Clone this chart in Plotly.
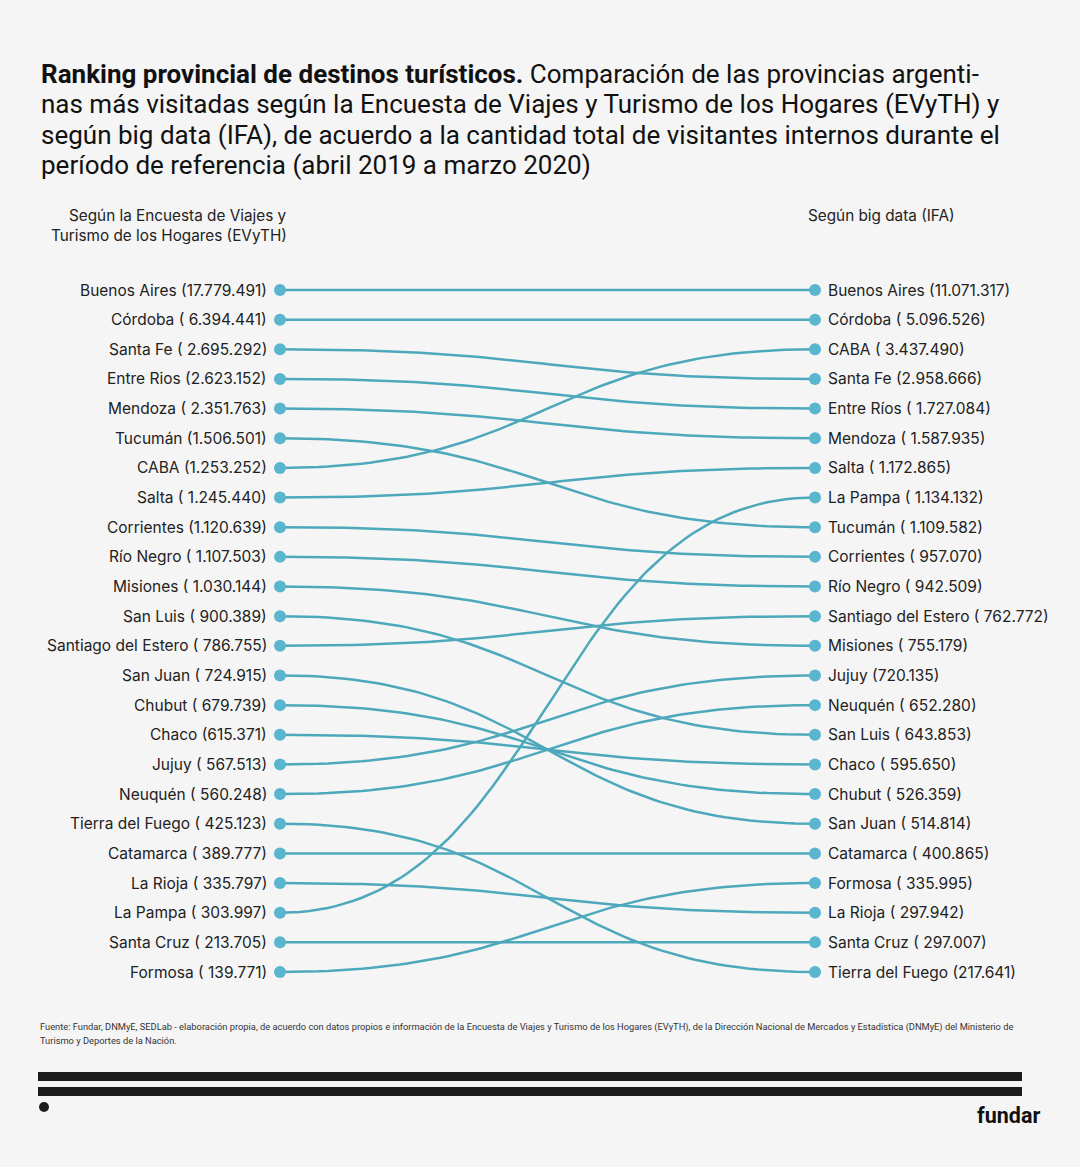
import numpy as np
import plotly.graph_objects as go

# ---------------- data ----------------
left_names = ["Buenos Aires", "Córdoba", "Santa Fe", "Entre Rios", "Mendoza", "Tucumán", "CABA",
              "Salta", "Corrientes", "Río Negro", "Misiones", "San Luis", "Santiago del Estero",
              "San Juan", "Chubut", "Chaco", "Jujuy", "Neuquén", "Tierra del Fuego", "Catamarca",
              "La Rioja", "La Pampa", "Santa Cruz", "Formosa"]
left_values = ["(17.779.491)", "( 6.394.441)", "( 2.695.292)", "(2.623.152)", "( 2.351.763)",
               "(1.506.501)", "(1.253.252)", "( 1.245.440)", "(1.120.639)", "( 1.107.503)",
               "( 1.030.144)", "( 900.389)", "( 786.755)", "( 724.915)", "( 679.739)",
               "(615.371)", "( 567.513)", "( 560.248)", "( 425.123)", "( 389.777)",
               "( 335.797)", "( 303.997)", "( 213.705)", "( 139.771)"]

right_names = ["Buenos Aires", "Córdoba", "CABA", "Santa Fe", "Entre Ríos", "Mendoza", "Salta",
               "La Pampa", "Tucumán", "Corrientes", "Río Negro", "Santiago del Estero", "Misiones",
               "Jujuy", "Neuquén", "San Luis", "Chaco", "Chubut", "San Juan", "Catamarca",
               "Formosa", "La Rioja", "Santa Cruz", "Tierra del Fuego"]
right_values = ["(11.071.317)", "( 5.096.526)", "( 3.437.490)", "(2.958.666)", "( 1.727.084)",
                "( 1.587.935)", "( 1.172.865)", "( 1.134.132)", "( 1.109.582)", "( 957.070)",
                "( 942.509)", "( 762.772)", "( 755.179)", "(720.135)", "( 652.280)",
                "( 643.853)", "( 595.650)", "( 526.359)", "( 514.814)", "( 400.865)",
                "( 335.995)", "( 297.942)", "( 297.007)", "(217.641)"]

# mapping for matching names with different spelling
alias = {"Entre Rios": "Entre Ríos"}

title_lines = [
    "<b>Ranking provincial de destinos turísticos.</b> Comparación de las provincias argenti-",
    "nas más visitadas según la Encuesta de Viajes y Turismo de los Hogares (EVyTH) y",
    "según big data (IFA), de acuerdo a la cantidad total de visitantes internos durante el",
    "período de referencia (abril 2019 a marzo 2020)",
]
left_header = ["Según la Encuesta de Viajes y", "Turismo de los Hogares (EVyTH)"]
right_header = ["Según big data (IFA)"]
foot_lines = [
    "Fuente: Fundar, DNMyE, SEDLab - elaboración propia, de acuerdo con datos propios e información de la Encuesta de Viajes y Turismo de los Hogares (EVyTH), de la Dirección Nacional de Mercados y Estadística (DNMyE) del Ministerio de",
    "Turismo y Deportes de la Nación.",
]

# ---------------- style ----------------
BG = "#F5F5F5"
LINE = "#4DA8BB"
DOT = "#5AB5CF"
TXT = "#222222"
FONT = "Inter"
W, H = 1080, 1167

# pixel geometry
X_LEFT_PX, X_RIGHT_PX = 280, 815
Y_TOP_PX, Y_BOT_PX = 290, 972
n = len(left_names)
xspan = X_RIGHT_PX - X_LEFT_PX
step = (Y_BOT_PX - Y_TOP_PX) / (n - 1)
x_range = [-X_LEFT_PX / xspan, (W - X_LEFT_PX) / xspan]
y_range = [n + (H - Y_BOT_PX) / step, 1 - Y_TOP_PX / step]

fig = go.Figure()

right_rank = {nm: i + 1 for i, nm in enumerate(right_names)}
t = np.linspace(0, 1, 80)
for i, nm in enumerate(left_names):
    r0 = i + 1
    r1 = right_rank[alias.get(nm, nm)]
    # cubic bezier, control points at mid x
    bx = 3 * (1 - t) ** 2 * t * 0.5 + 3 * (1 - t) * t ** 2 * 0.5 + t ** 3
    by = (1 - t) ** 3 * r0 + 3 * (1 - t) ** 2 * t * r0 + 3 * (1 - t) * t ** 2 * r1 + t ** 3 * r1
    fig.add_trace(go.Scatter(x=bx, y=by, mode="lines", line=dict(color=LINE, width=2.5),
                             hoverinfo="skip", showlegend=False))

ranks = list(range(1, n + 1))
fig.add_trace(go.Scatter(x=[0] * n, y=ranks, mode="markers",
                         marker=dict(color=DOT, size=12), showlegend=False,
                         text=[f"{a} {b}" for a, b in zip(left_names, left_values)],
                         hoverinfo="text"))
fig.add_trace(go.Scatter(x=[1] * n, y=ranks, mode="markers",
                         marker=dict(color=DOT, size=12), showlegend=False,
                         text=[f"{a} {b}" for a, b in zip(right_names, right_values)],
                         hoverinfo="text"))

LBL = 15.5
ann = []
for i in range(n):
    ann.append(dict(x=0, y=i + 1, xref="x", yref="y", text=f"{left_names[i]} {left_values[i]}",
                    showarrow=False, xanchor="right", yanchor="middle", xshift=-11,
                    font=dict(family=FONT, size=LBL, color=TXT)))
    ann.append(dict(x=1, y=i + 1, xref="x", yref="y", text=f"{right_names[i]} {right_values[i]}",
                    showarrow=False, xanchor="left", yanchor="middle", xshift=11,
                    font=dict(family=FONT, size=LBL, color=TXT)))

def px(x): return x / W
def py(y): return 1 - y / H

for k, line in enumerate(title_lines):
    ann.append(dict(x=px(39), y=py(74 + 30.3 * k), xref="paper", yref="paper", text=line,
                    showarrow=False, xanchor="left", yanchor="middle", align="left",
                    font=dict(family="Roboto", size=26, color="#111111")))
for k, line in enumerate(left_header):
    ann.append(dict(x=px(289), y=py(215 + 21 * k), xref="paper", yref="paper", text=line,
                    showarrow=False, xanchor="right", yanchor="middle",
                    font=dict(family=FONT, size=15.3, color=TXT)))
for k, line in enumerate(right_header):
    ann.append(dict(x=px(957), y=py(215 + 21 * k), xref="paper", yref="paper", text=line,
                    showarrow=False, xanchor="right", yanchor="middle",
                    font=dict(family=FONT, size=15.3, color=TXT)))
for k, line in enumerate(foot_lines):
    ann.append(dict(x=px(38), y=py(1027 + 13 * k), xref="paper", yref="paper", text=line,
                    showarrow=False, xanchor="left", yanchor="middle", align="left",
                    font=dict(family="Roboto", size=9.3, color="#333333")))
ann.append(dict(x=px(1042), y=py(1115), xref="paper", yref="paper", text="<b>fundar</b>",
                showarrow=False, xanchor="right", yanchor="middle",
                font=dict(family="Roboto", size=21.5, color="#111111")))

shapes = [
    dict(type="rect", xref="paper", yref="paper", x0=px(38), x1=px(1022), y0=py(1072), y1=py(1081),
         fillcolor="#1C1C1C", line=dict(width=0)),
    dict(type="rect", xref="paper", yref="paper", x0=px(38), x1=px(1022), y0=py(1087), y1=py(1096),
         fillcolor="#1C1C1C", line=dict(width=0)),
    dict(type="circle", xref="paper", yref="paper", x0=px(39), x1=px(49), y0=py(1102), y1=py(1112),
         fillcolor="#1C1C1C", line=dict(width=0)),
]

fig.update_layout(
    width=W, height=H, autosize=False,
    margin=dict(l=0, r=0, t=0, b=0),
    paper_bgcolor=BG, plot_bgcolor=BG,
    xaxis=dict(range=x_range, visible=False, fixedrange=True),
    yaxis=dict(range=y_range, visible=False, fixedrange=True),
    annotations=ann, shapes=shapes, showlegend=False,
)

fig.write_html("out.html", config={"displayModeBar": False},
               post_script="document.body.style.margin='0';document.body.style.background='#F5F5F5';")
